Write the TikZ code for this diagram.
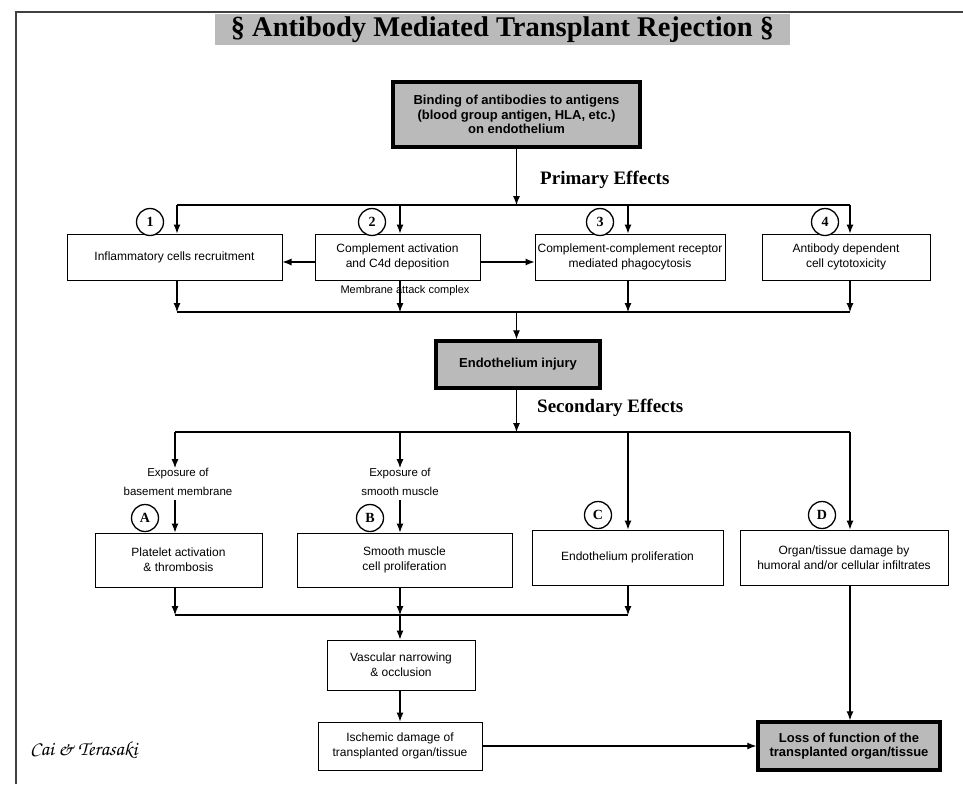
\documentclass[tikz,border=0pt]{standalone}
\usepackage[T1]{fontenc}
\usepackage{fontspec}
\setmainfont{Liberation Sans}
\newfontfamily\serifb{Liberation Serif}
\usetikzlibrary{arrows.meta}
\begin{document}
\begin{tikzpicture}[x=1pt,y=-1pt,
  box/.style={draw, line width=1pt, fill=white, align=center, inner sep=0pt,
    font=\fontsize{12}{15}\selectfont},
  keybox/.style={draw, line width=3.5pt, fill=black!27, align=center, inner sep=0pt,
    font=\bfseries\fontsize{13}{14.5}\selectfont},
  circ/.style={circle, draw, line width=1.3pt, minimum size=27pt, inner sep=0pt, fill=white,
    font=\serifb\bfseries\fontsize{14}{14}\selectfont},
  lbl/.style={align=center, inner sep=0pt, font=\fontsize{11.5}{19}\selectfont},
  head/.style={inner sep=0pt, anchor=west, font=\serifb\bfseries\fontsize{19}{19}\selectfont},
  arr/.style={-{Latex[length=9pt,width=7pt]}, line width=1.1pt},
  ln/.style={line width=1.1pt}
]
\useasboundingbox (0,0) rectangle (963,784);
\fill[white] (0,0) rectangle (963,784);
% frame
\draw[line width=1.6pt, black!75] (16,784) -- (16,12) -- (963,12);

% title
\node[fill=black!27, minimum width=575pt, minimum height=31pt, inner sep=0pt,
  font=\serifb\bfseries\fontsize{28.5}{29}\selectfont] (title) at (502.5,30)
  {§ Antibody Mediated Transplant Rejection §};

% top box
\node[keybox, minimum width=247pt, minimum height=65pt] (bind) at (516.5,114.5)
  {Binding of antibodies to antigens\\(blood group antigen, HLA, etc.)\\on endothelium};

\node[head] (prim) at (540,180) {Primary Effects};

% primary effect boxes
\node[box, minimum width=215pt, minimum height=46pt] (p1) at (174.5,257) {Inflammatory cells recruitment};
\node[box, minimum width=165pt, minimum height=46pt] (p2) at (397.5,257) {Complement activation\\and C4d deposition};
\node[box, minimum width=190pt, minimum height=46pt] (p3) at (630,257) {Complement-complement receptor\\mediated phagocytosis};
\node[box, minimum width=168pt, minimum height=46pt] (p4) at (846,257) {Antibody dependent\\cell cytotoxicity};

\node[circ] (n1) at (150,222) {1};
\node[circ] (n2) at (372,222) {2};
\node[circ] (n3) at (600,222) {3};
\node[circ] (n4) at (825,222) {4};

\coordinate (j1) at (516.5,205);
\coordinate (tl) at (177,205);
\coordinate (tr) at (850,205);
\coordinate (t2) at (400,205);
\coordinate (t3) at (628,205);
\draw[arr] (bind.south) -- (j1);
\draw[ln] (tl) -- (tr);
\draw[arr] (tl) -- (tl |- p1.north);
\draw[arr] (t2) -- (t2 |- p2.north);
\draw[arr] (t3) -- (t3 |- p3.north);
\draw[arr] (tr) -- (tr |- p4.north);

\draw[arr] (p2.west |- 0,262) -- (p1.east |- 0,262);
\draw[arr] (p2.east |- 0,262) -- (p3.west |- 0,262);

\coordinate (bl) at (177,312);
\coordinate (br) at (850,312);
\coordinate (b2) at (400,312);
\coordinate (b3) at (628,312);
\coordinate (j2) at (516.5,312);
\draw[ln] (bl) -- (br);
\draw[arr] (bl |- p1.south) -- (bl);
\draw[arr] (b2 |- p2.south) -- (b2);
\draw[arr] (b3 |- p3.south) -- (b3);
\draw[arr] (br |- p4.south) -- (br);
\node[inner sep=0pt, font=\fontsize{11}{12}\selectfont] (mac) at (405,291) {Membrane attack complex};

% endothelium injury
\node[keybox, minimum width=164pt, minimum height=47pt] (endo) at (518,364.5) {Endothelium injury};
\draw[arr] (j2) -- (endo.north -| j2);

\node[head] (sec) at (537,408) {Secondary Effects};
\coordinate (j3) at (516.5,432);
\draw[arr] (endo.south -| j3) -- (j3);

\coordinate (sl) at (175,432);
\coordinate (sr) at (850,432);
\coordinate (s2) at (400,432);
\coordinate (s3) at (628,432);
\draw[ln] (sl) -- (sr);

\node[lbl] (expa) at (178,482) {Exposure of\\basement membrane};
\node[lbl] (expb) at (400,482) {Exposure of\\smooth muscle};
\draw[arr] (sl) -- (sl |- expa.north);
\draw[arr] (s2) -- (s2 |- expb.north);

\node[box, minimum width=167pt, minimum height=54pt] (ba) at (178.5,560) {Platelet activation\\\& thrombosis};
\node[box, minimum width=215pt, minimum height=54pt] (bb) at (404.5,560) {Smooth muscle\\cell proliferation};
\node[box, minimum width=191pt, minimum height=55pt] (bc) at (627.5,557.5) {Endothelium proliferation};
\node[box, minimum width=208pt, minimum height=55pt] (bd) at (844,557.5) {Organ/tissue damage by\\humoral and/or cellular infiltrates};

\draw[arr] (sl |- expa.south) ++(0,4) -- (sl |- ba.north);
\draw[arr] (s2 |- expb.south) ++(0,4) -- (s2 |- bb.north);
\draw[arr] (s3) -- (s3 |- bc.north);
\draw[arr] (sr) -- (sr |- bd.north);

\node[circ] (na) at (145,518) {A};
\node[circ] (nb) at (370,518) {B};
\node[circ] (nc) at (598,515) {C};
\node[circ] (nd) at (822,515) {D};

\coordinate (ul) at (175,615);
\coordinate (u2) at (400,615);
\coordinate (u3) at (628,615);
\draw[ln] (ul) -- (u3);
\draw[arr] (ul |- ba.south) -- (ul);
\draw[arr] (u2 |- bb.south) -- (u2);
\draw[arr] (u3 |- bc.south) -- (u3);

\node[box, minimum width=148pt, minimum height=50pt] (vas) at (401,665) {Vascular narrowing\\\& occlusion};
\node[box, minimum width=164pt, minimum height=48pt] (isc) at (400,746) {Ischemic damage of\\transplanted organ/tissue};
\node[keybox, minimum width=182pt, minimum height=48pt] (loss) at (849,746) {Loss of function of the\\transplanted organ/tissue};

\draw[arr] (u2) -- (u2 |- vas.north);
\draw[arr] (vas.south -| u2) -- (isc.north -| u2);
\draw[arr] (isc.east) -- (loss.west);
\draw[arr] (sr |- bd.south) -- (sr |- loss.north);

\node[inner sep=0pt, anchor=west, font=\fontencoding{T1}\fontfamily{pzc}\fontseries{m}\fontshape{it}\fontsize{20}{20}\selectfont] (auth) at (30,750) {Cai \& Terasaki};
\end{tikzpicture}
\end{document}
